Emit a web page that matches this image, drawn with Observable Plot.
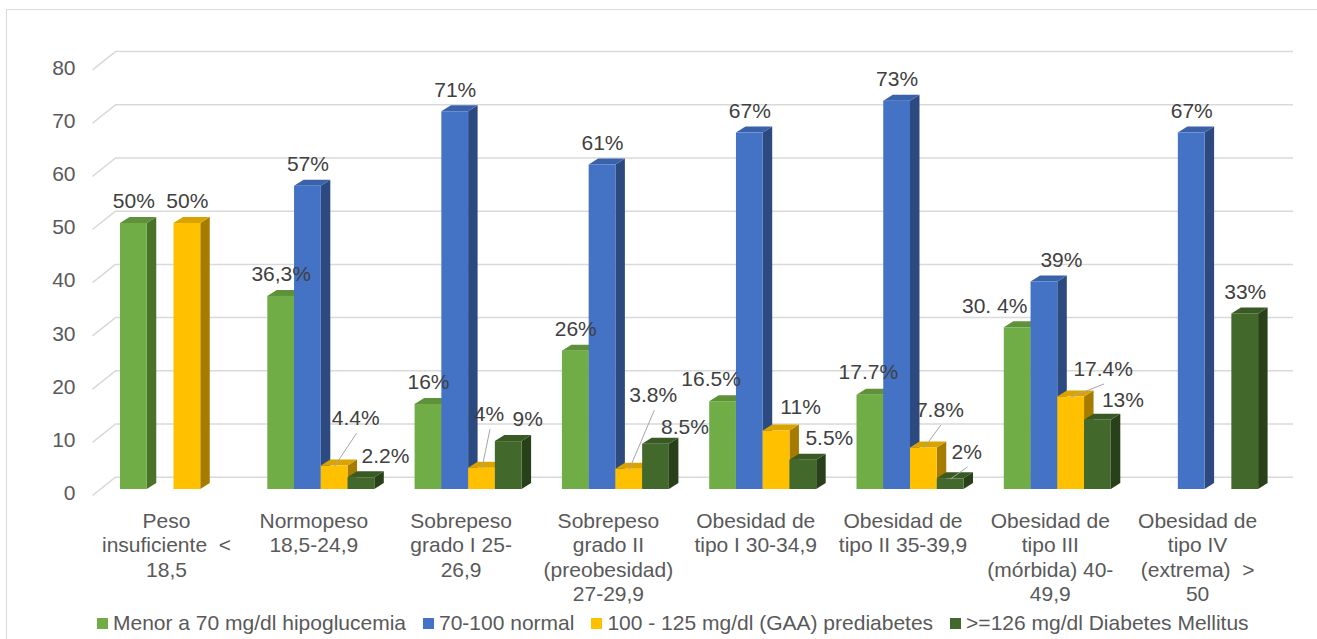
<!DOCTYPE html>
<html><head><meta charset="utf-8">
<script src="https://cdn.jsdelivr.net/npm/d3@7"></script>
<script src="https://cdn.jsdelivr.net/npm/@observablehq/plot@0.6"></script>
<style>
html,body{margin:0;padding:0;background:#fff;overflow:hidden;width:1317px;height:639px}
#chart{position:absolute;left:0;top:0}
#chart text{white-space:pre}
#legend{position:absolute;left:0;top:606px;width:1317px;height:34px;display:flex;align-items:center;padding-left:97px;box-sizing:border-box;font:21px "Liberation Sans",Arial,sans-serif;color:#595959;white-space:nowrap}
.item{display:flex;align-items:center;margin-right:17px}
.sw{width:11px;height:11px;margin-right:5px;display:inline-block}
#frame{position:absolute;left:6px;top:9px;width:1340px;height:660px;border:1.5px solid #d9d9d9;box-sizing:border-box;pointer-events:none}
</style></head><body>
<div id="chart"></div><div id="legend"></div><div id="frame"></div>
<script>
// ---------- DATA ----------
const categories = [
  "Peso\ninsuficiente  <\n18,5",
  "Normopeso\n18,5-24,9",
  "Sobrepeso\ngrado I 25-\n26,9",
  "Sobrepeso\ngrado II\n(preobesidad)\n27-29,9",
  "Obesidad de\ntipo I 30-34,9",
  "Obesidad de\ntipo II 35-39,9",
  "Obesidad de\ntipo III\n(mórbida) 40-\n49,9",
  "Obesidad de\ntipo IV\n(extrema)  >\n50"
];
const seriesNames = [
  "Menor a 70 mg/dl hipoglucemia",
  "70-100 normal",
  "100 - 125 mg/dl (GAA) prediabetes",
  ">=126 mg/dl Diabetes Mellitus"
];
const hipoglucemia = [50, 36.3, 16, 26, 16.5, 17.7, 30.4, null];
const normal       = [null, 57, 71, 61, 67, 73, 39, 67];
const prediabetes  = [50, 4.4, 4, 3.8, 11, 7.8, 17.4, null];
const diabetes     = [null, 2.2, 9, 8.5, 5.5, 2, 13, 33];

const labelsHipo     = ["50%", "36,3%", "16%", "26%", "16.5%", "17.7%", "30. 4%", null];
const labelsNormal   = [null, "57%", "71%", "61%", "67%", "73%", "39%", "67%"];
const labelsPrediab  = ["50%", "4.4%", "4%", "3.8%", "11%", "7.8%", "17.4%", null];
const labelsDiabetes = [null, "2.2%", "9%", "8.5%", "5.5%", "2%", "13%", "33%"];

const yTicks = [0, 10, 20, 30, 40, 50, 60, 70, 80];

// ---------- LAYOUT / STYLE ----------
const W = 1317, H = 606;
const SLOT_PX = 26.75, PPU = 5.32, X0_PX = 120, BASE_PX = 489;
const GROUP_STEP = 147.3 / SLOT_PX;
const DX = 9.5 / SLOT_PX, DY = 6 / PPU;
const WALL_LEFT = (115 - X0_PX) / SLOT_PX, WALL_RIGHT = (1293 - X0_PX) / SLOT_PX;
const WALL_FRONT = (92 - X0_PX) / SLOT_PX;
const TICK_X = (75 - X0_PX) / SLOT_PX;
const GRID = "#d9d9d9", AXIS_TEXT = "#595959", LABEL_TEXT = "#404040";

// label nudges (pixels, relative to default above-bar position) and leader flags
const nudges = [
  [[0,0],[0,0],[0,0],[0,0],[-12,0],[-2,-1],[-23,0],null],
  [null,[0,0],[0,0],[0,0],[0,0],[0,0],[17,0],[0,0]],
  [[0,0],[21,-26],[7,-32],[24,-52],[24,-2],[16,-16],[32,-6],null],
  [null,[24,0],[19,0],[29,5],[26,0],[16,-5],[25,2],[0,0]]
];
const leaders = [
  [0,0,0,0,0,0,0,0],
  [0,0,0,0,0,0,0,0],
  [0,1,1,1,0,1,1,0],
  [0,0,0,0,0,1,0,0]
];

const series = [
  {values: hipoglucemia, labels: labelsHipo,     front: "#70AD47", top: "#5E9139", side: "#4A7229"},
  {values: normal,       labels: labelsNormal,   front: "#4472C4", top: "#3A62AA", side: "#2D4A80"},
  {values: prediabetes,  labels: labelsPrediab,  front: "#FFC000", top: "#D9A300", side: "#A67C00"},
  {values: diabetes,     labels: labelsDiabetes, front: "#43682B", top: "#395A24", side: "#29411A"}
];

const bars = [];
series.forEach((s, j) => s.values.forEach((v, i) => {
  if (v == null) return;
  const x0 = i * GROUP_STEP + j;
  const n = nudges[j][i] || [0, 0];
  const lx = x0 + 0.5 + n[0] / SLOT_PX;
  const ly = v + (22 - n[1]) / PPU;
  bars.push({s: j, i, v, x0, id: j + "-" + i, label: s.labels[i], lx, ly, leader: leaders[j][i]});
}));

const sideData = bars.flatMap(b => [
  {s: b.s, id: b.id, x: b.x0 + 1, y1: 0, y2: b.v},
  {s: b.s, id: b.id, x: b.x0 + 1 + DX, y1: DY, y2: b.v + DY}
]);
const topData = bars.flatMap(b => [
  {s: b.s, id: b.id, x: b.x0, y1: b.v, y2: b.v},
  {s: b.s, id: b.id, x: b.x0 + DX, y1: b.v, y2: b.v + DY},
  {s: b.s, id: b.id, x: b.x0 + 1, y1: b.v, y2: b.v + DY},
  {s: b.s, id: b.id, x: b.x0 + 1 + DX, y1: b.v + DY, y2: b.v + DY}
]);

const marks = [
  Plot.ruleY(yTicks, {y: d => d + 12.3 / PPU, x1: () => WALL_LEFT, x2: () => WALL_RIGHT, stroke: GRID, strokeWidth: 1.5}),
  Plot.link(yTicks, {x1: () => WALL_FRONT, y1: d => d - 6 / PPU, x2: () => WALL_LEFT, y2: d => d + 12.3 / PPU, stroke: GRID, strokeWidth: 1.5}),
  Plot.text(yTicks, {x: () => TICK_X, y: d => d - 4 / PPU, text: d => String(d), textAnchor: "end", fill: AXIS_TEXT, fontSize: 21})
];
series.forEach((s, j) => marks.push(Plot.area(sideData.filter(d => d.s === j), {x1: "x", y1: "y1", y2: "y2", z: "id", fill: s.side, curve: "linear"})));
series.forEach((s, j) => marks.push(Plot.area(topData.filter(d => d.s === j), {x1: "x", y1: "y1", y2: "y2", z: "id", fill: s.top, curve: "linear"})));
series.forEach((s, j) => marks.push(Plot.rect(bars.filter(d => d.s === j), {x1: "x0", x2: d => d.x0 + 1, y1: () => 0, y2: "v", fill: s.front})));
marks.push(
  Plot.link(bars.filter(d => d.leader), {x1: d => d.x0 + 0.5, y1: "v", x2: d => d.lx + 1 / SLOT_PX, y2: d => d.ly - 15 / PPU, stroke: "#a6a6a6", strokeWidth: 1}),
  Plot.text(bars, {x: "lx", y: "ly", text: "label", fill: LABEL_TEXT, fontSize: 21}),
  Plot.text(categories, {x: (d, i) => i * GROUP_STEP + 2 - 7.5 / SLOT_PX, y: () => 0, dy: 21, text: d => d, lineAnchor: "top", lineHeight: 24.5 / 21, fill: AXIS_TEXT, fontSize: 21})
);

const chart = Plot.plot({
  width: W, height: H,
  marginTop: 0, marginRight: 0, marginBottom: 0, marginLeft: 0,
  x: {type: "linear", domain: [-X0_PX / SLOT_PX, (W - X0_PX) / SLOT_PX], range: [0, W], axis: null},
  y: {type: "linear", domain: [0, 80], range: [BASE_PX, BASE_PX - 80 * PPU], axis: null},
  style: {fontFamily: '"Liberation Sans", Arial, sans-serif', background: "#fff", overflow: "visible"},
  marks
});
document.getElementById("chart").appendChild(chart);

const legend = document.getElementById("legend");
seriesNames.forEach((name, j) => {
  const item = document.createElement("span");
  item.className = "item";
  const sw = document.createElement("span");
  sw.className = "sw";
  sw.style.background = series[j].front;
  const t = document.createElement("span");
  t.textContent = name;
  item.appendChild(sw); item.appendChild(t);
  legend.appendChild(item);
});
</script>
</body></html>
